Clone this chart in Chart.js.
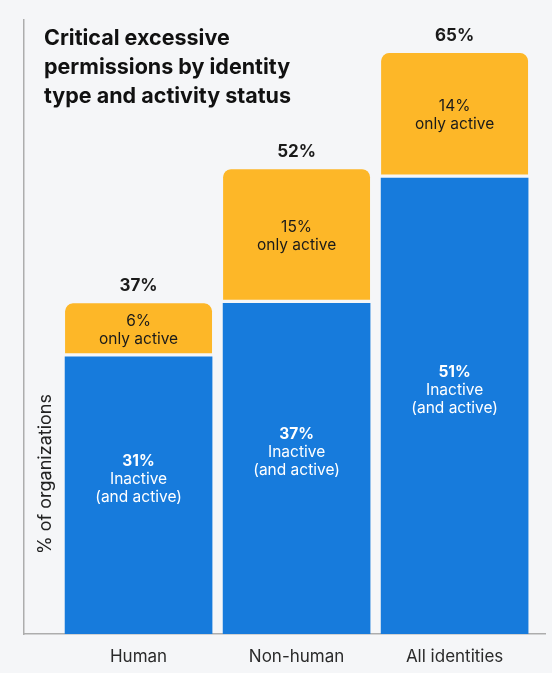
<!DOCTYPE html>
<html>
<head>
<meta charset="utf-8">
<script src="https://cdn.jsdelivr.net/npm/chart.js@4"></script>
<style>
  html, body { margin: 0; padding: 0; background: #f5f6f8; }
  #wrap { width: 552px; height: 673px; position: relative; }
</style>
</head>
<body>
<div id="wrap"><canvas id="chart"></canvas></div>
<script>
const categories = ['Human', 'Non-human', 'All identities'];
const inactive = [31, 37, 51];
const onlyActive = [6, 15, 14];
const titleLines = ['Critical excessive', 'permissions by identity', 'type and activity status'];
const yTitle = '% of organizations';

const bg = '#f5f6f8';
const blue = '#177bdc';
const orange = '#fdb728';
const font = 'Inter, "Noto Sans", sans-serif';

// labels inside and above the bars + title drawn over the plot area
const labelPlugin = {
  id: 'labels',
  afterDatasetsDraw(chart) {
    const c = chart.ctx;
    const area = chart.chartArea;
    const blueMeta = chart.getDatasetMeta(0);
    const orangeMeta = chart.getDatasetMeta(1);
    c.save();
    c.textAlign = 'center';
    c.textBaseline = 'middle';

    blueMeta.data.forEach((bar, i) => {
      const mid = (bar.y + bar.base) / 2 - 16;
      c.fillStyle = '#ffffff';
      c.font = `bold 15.5px ${font}`;
      c.fillText(inactive[i] + '%', bar.x, mid - 18);
      c.font = `15.5px ${font}`;
      c.fillText('Inactive', bar.x, mid);
      c.fillText('(and active)', bar.x, mid + 18);
    });

    orangeMeta.data.forEach((bar, i) => {
      const mid = (bar.y + bar.base) / 2;
      c.fillStyle = '#1a1a1a';
      c.font = `15.5px ${font}`;
      c.fillText(onlyActive[i] + '%', bar.x, mid - 9);
      c.fillText('only active', bar.x, mid + 9);
      c.font = `bold 17px ${font}`;
      c.fillText((inactive[i] + onlyActive[i]) + '%', bar.x, bar.y - 17);
    });

    // chart title
    c.textAlign = 'left';
    c.fillStyle = '#111111';
    c.font = `bold 21.5px ${font}`;
    titleLines.forEach((t, i) => c.fillText(t, area.left + 20, 39 + i * 29));

    // axis title, sitting just right of the axis line
    c.save();
    c.translate(area.left + 22, 474);
    c.rotate(-Math.PI / 2);
    c.textAlign = 'center';
    c.fillStyle = '#222222';
    c.font = `18px ${font}`;
    c.fillText(yTitle, 0, 0);
    c.restore();

    c.restore();
  }
};

const ctx = document.getElementById('chart').getContext('2d');
const chart = new Chart(ctx, {
  type: 'bar',
  data: {
    labels: categories,
    datasets: [
      {
        label: 'Inactive (and active)',
        data: inactive.map((v, i) => ({ x: i, y: v })),
        backgroundColor: blue,
        borderWidth: 0,
        barThickness: 147
      },
      {
        label: 'only active',
        data: onlyActive.map((v, i) => ({ x: i, y: v })),
        backgroundColor: orange,
        borderColor: bg,
        borderWidth: { top: 0, left: 0, right: 0, bottom: 4 },
        borderSkipped: false,
        borderRadius: { topLeft: 8, topRight: 8, bottomLeft: 0, bottomRight: 0 },
        barThickness: 147
      }
    ]
  },
  options: {
    responsive: true,
    maintainAspectRatio: false,
    animation: false,
    layout: { padding: { left: 24, right: 7, top: 20, bottom: 0 } },
    plugins: {
      legend: { display: false },
      tooltip: { enabled: false }
    },
    scales: {
      x: {
        type: 'linear',
        stacked: true,
        offset: false,
        min: -0.725,
        max: 2.572,
        afterBuildTicks: axis => { axis.ticks = categories.map((_, i) => ({ value: i })); },
        afterFit: s => { s.height = 39; },
        grid: { display: false, drawTicks: false, offset: false },
        border: { display: true, color: '#adadad', width: 1.5 },
        ticks: {
          padding: 13,
          color: '#2a2a2a',
          font: { family: font, size: 17 },
          callback: v => categories[v]
        }
      },
      y: {
        stacked: true,
        min: 0,
        max: 68.7,
        grid: { display: false, drawTicks: false },
        border: { display: true, color: '#adadad', width: 1.5 },
        ticks: { display: false },
        afterFit: s => { s.width = 0; }
      }
    }
  },
  plugins: [labelPlugin]
});
</script>
</body>
</html>
